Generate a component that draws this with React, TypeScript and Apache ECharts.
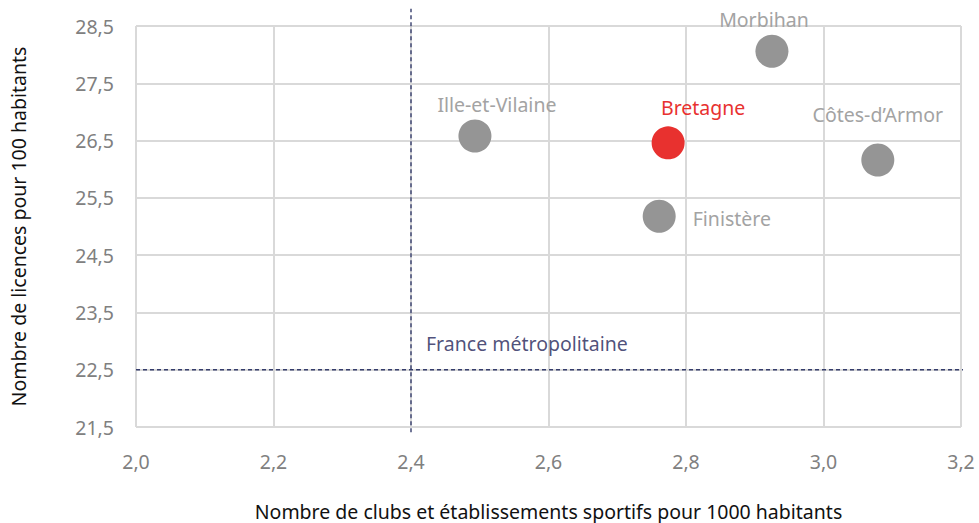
import React, { useEffect, useRef } from "react";
import * as echarts from "echarts";

const names = ["Ille-et-Vilaine", "Bretagne", "Morbihan", "Côtes-d’Armor", "Finistère"];
const clubs = [2.493, 2.774, 2.925, 3.079, 2.761];
const licences = [26.58, 26.46, 28.06, 26.16, 25.18];
const franceClubs = 2.4;
const franceLicences = 22.5;
const xTitle = "Nombre de clubs et établissements sportifs pour 1000 habitants";
const yTitle = "Nombre de licences pour 100 habitants";
const refLabel = "France métropolitaine";

const FONT = "Noto Sans";
const FS = 19.5;
const fmt = (v: number) => v.toFixed(1).replace(".", ",");

export default function App() {
  const ref = useRef<HTMLDivElement>(null);
  useEffect(() => {
    const chart = echarts.init(ref.current!, null, { renderer: "svg" });
    const labelCfg: any[] = [
      { position: "top", offset: [22, 0] },
      { position: "top", offset: [35, -4], color: "#e8312f" },
      { position: "top", offset: [-8, 0] },
      { position: "top", offset: [0, -14] },
      { position: "right", offset: [12, 2] },
    ];
    const data = names.map((n, i) => ({
      name: n,
      value: [clubs[i], licences[i]],
      itemStyle: { color: n === "Bretagne" ? "#e8312f" : "#959595", opacity: 1 },
      label: {
        show: true,
        formatter: "{b}",
        color: "#a3a3a3",
        fontFamily: FONT,
        fontSize: FS,
        ...labelCfg[i],
      },
    }));
    const dash = { color: "#353d6c", width: 1.4, type: [4, 3] as any };
    chart.setOption({
      animation: false,
      grid: { left: 136, right: 18, top: 26, bottom: 96, outerBoundsMode: "none", containLabel: false },
      xAxis: {
        type: "value",
        min: 2.0,
        max: 3.2,
        interval: 0.2,
        axisLine: { show: false },
        axisTick: { show: false },
        splitLine: { lineStyle: { color: "#d9d9d9", width: 2 } },
        axisLabel: { formatter: fmt, color: "#808080", fontFamily: FONT, fontSize: FS, margin: 24 },
        name: xTitle,
        nameLocation: "middle",
        nameGap: 74,
        nameTextStyle: { color: "#111", fontFamily: FONT, fontSize: FS },
      },
      yAxis: {
        type: "value",
        min: 21.5,
        max: 28.5,
        interval: 1,
        axisLine: { show: false },
        axisTick: { show: false },
        splitLine: { lineStyle: { color: "#d9d9d9", width: 2 } },
        axisLabel: { formatter: fmt, color: "#808080", fontFamily: FONT, fontSize: FS, margin: 22 },
        name: yTitle,
        nameLocation: "middle",
        nameGap: 108,
        nameTextStyle: { color: "#111", fontFamily: FONT, fontSize: FS },
      },
      series: [
        {
          type: "line",
          data: [[franceClubs, 21.41], [franceClubs, 28.8]],
          symbol: "none",
          clip: false,
          lineStyle: dash,
          silent: true,
          z: 1,
        },
        {
          type: "line",
          data: [[2.0, franceLicences], [3.227, franceLicences]],
          symbol: "none",
          clip: false,
          lineStyle: dash,
          silent: true,
          z: 1,
        },
        {
          type: "scatter",
          data: [{ value: [franceClubs, franceLicences], name: refLabel }],
          symbolSize: 0,
          label: {
            show: true,
            formatter: "{b}",
            position: "right",
            offset: [10, -26],
            color: "#1f2358",
            fontFamily: FONT,
            fontSize: FS,
          },
          silent: true,
        },
        {
          type: "scatter",
          symbolSize: 33,
          data,
          z: 3,
        },
      ],
    });
    return () => chart.dispose();
  }, []);
  return <div ref={ref} style={{ width: 979, height: 523, position: "absolute", left: 0, top: 0 }} />;
}
